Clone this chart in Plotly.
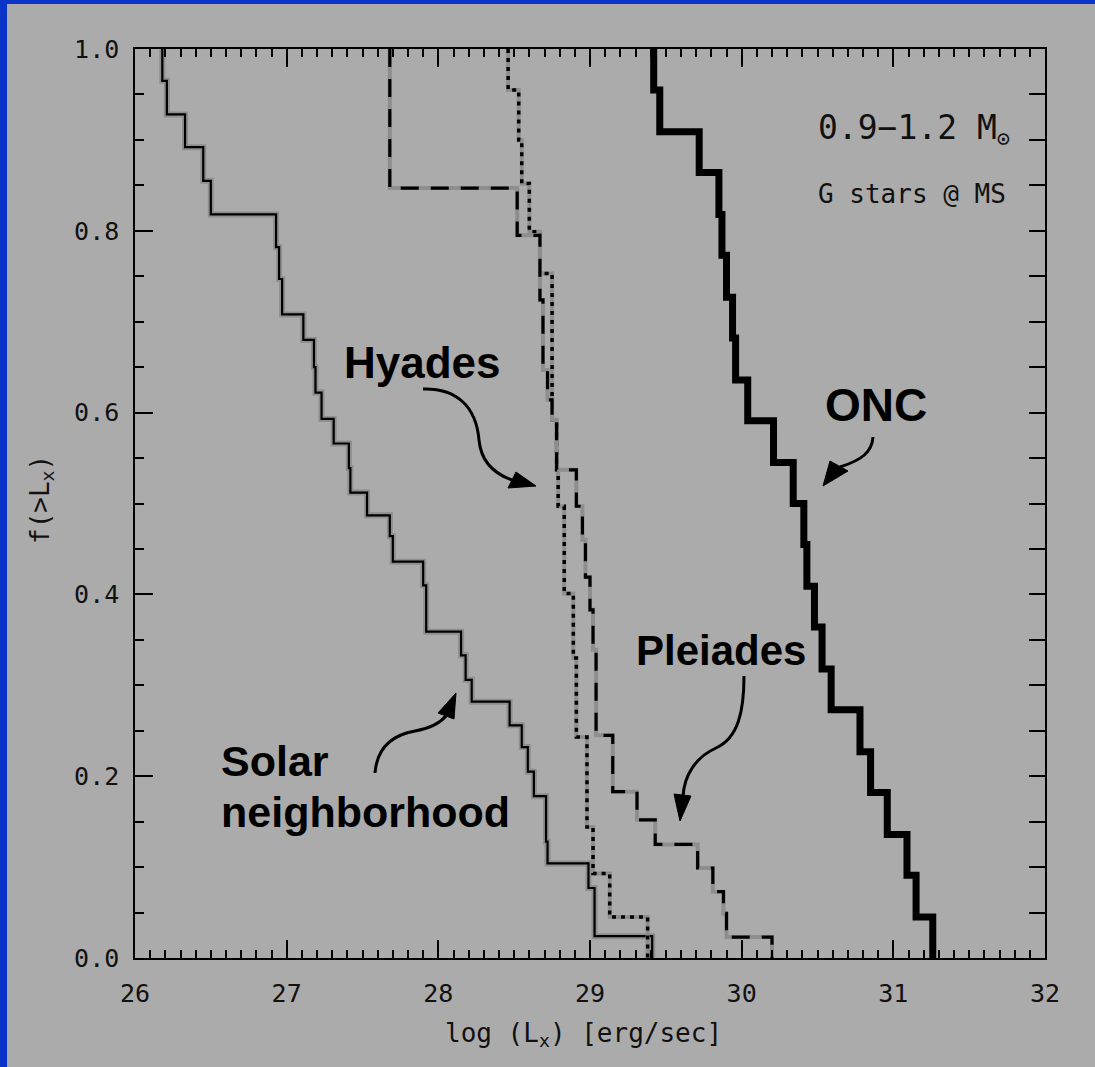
import plotly.graph_objects as go

# ---- cumulative X-ray luminosity functions, f(>Lx) vs log Lx ----
# each series: log Lx where the curve steps down, and the level after the step
solar_logLx = [26.18, 26.21, 26.33, 26.45, 26.50, 26.93, 26.95, 26.97, 27.11, 27.18,
               27.19, 27.23, 27.31, 27.41, 27.42, 27.53, 27.68, 27.70, 27.90, 27.92,
               28.15, 28.18, 28.22, 28.47, 28.55, 28.59, 28.63, 28.71, 28.72, 28.99,
               29.03, 29.41]
solar_frac = [0.965, 0.928, 0.892, 0.855, 0.818, 0.782, 0.747, 0.708, 0.680, 0.650,
              0.622, 0.593, 0.566, 0.539, 0.512, 0.487, 0.464, 0.436, 0.410, 0.359,
              0.333, 0.306, 0.282, 0.256, 0.232, 0.205, 0.178, 0.128, 0.104, 0.077,
              0.024, 0.0]

hyades_logLx = [28.46, 28.53, 28.55, 28.60, 28.67, 28.75, 28.78, 28.79, 28.83, 28.89,
                28.91, 28.98, 29.02, 29.13, 29.38]
hyades_frac = [0.955, 0.900, 0.852, 0.799, 0.753, 0.592, 0.537, 0.497, 0.401, 0.330,
               0.243, 0.144, 0.093, 0.045, 0.0]

pleiades_logLx = [27.68, 28.52, 28.67, 28.69, 28.72, 28.75, 28.78, 28.91, 28.95, 28.97,
                  29.00, 29.02, 29.04, 29.15, 29.31, 29.43, 29.71, 29.81, 29.88, 29.90,
                  30.20]
pleiades_frac = [0.847, 0.795, 0.724, 0.647, 0.614, 0.592, 0.537, 0.497, 0.460, 0.419,
                 0.383, 0.339, 0.245, 0.183, 0.152, 0.125, 0.099, 0.073, 0.049, 0.023,
                 0.0]

onc_logLx = [29.42, 29.46, 29.72, 29.85, 29.87, 29.90, 29.94, 29.96, 30.04, 30.21,
             30.34, 30.41, 30.43, 30.48, 30.53, 30.59, 30.78, 30.85, 30.96, 31.09,
             31.15, 31.26]
onc_frac = [0.955, 0.909, 0.864, 0.818, 0.773, 0.727, 0.682, 0.636, 0.591, 0.545,
            0.500, 0.455, 0.409, 0.364, 0.318, 0.273, 0.227, 0.182, 0.136, 0.091,
            0.045, 0.0]

x_range = [26, 32]
y_range = [0, 1]

# ---- figure geometry ----
W, H = 1095, 1067
ML, MR, MT, MB = 135, 50, 49, 109
PW, PH = W - ML - MR, H - MT - MB

BG = "#ababab"
BLUE = "#0a33c8"
HALO = "#8e8e8e"
INK = "#111111"
TICK_FONT = dict(family="DejaVu Sans Mono", size=25, color=INK)


def paper(px, py):
    """Figure pixel position -> paper coordinates."""
    return (px - ML) / PW, 1 - (py - MT) / PH


def steps(xs, fs):
    # every curve starts at f = 1 at its first step
    return [xs[0]] + list(xs), [1.0] + list(fs)


fig = go.Figure()


def add_curve(xs, fs, width, dash=None, halo=None):
    x, y = steps(xs, fs)
    if halo:
        fig.add_trace(go.Scatter(x=x, y=y, mode="lines", line_shape="hv",
                                 line=dict(color=HALO, width=halo),
                                 hoverinfo="skip", showlegend=False))
    fig.add_trace(go.Scatter(x=x, y=y, mode="lines", line_shape="hv",
                             line=dict(color="black", width=width, dash=dash),
                             showlegend=False))


add_curve(solar_logLx, solar_frac, 2.2, halo=6)
add_curve(hyades_logLx, hyades_frac, 3.5, dash="4px,5px", halo=4)
add_curve(pleiades_logLx, pleiades_frac, 3.2, dash="18px,12px", halo=4)
add_curve(onc_logLx, onc_frac, 7)

# empty trace so the mirrored tick axes (top / right) get drawn
fig.add_trace(go.Scatter(x=[], y=[], xaxis="x2", yaxis="y2", showlegend=False))

common = dict(showgrid=False, zeroline=False, ticks="inside", tickcolor="black",
              tickwidth=1.5)

fig.update_layout(
    width=W, height=H,
    margin=dict(l=ML, r=MR, t=MT, b=MB, pad=0),
    paper_bgcolor=BG, plot_bgcolor=BG,
    xaxis=dict(range=x_range, dtick=1, ticklen=18, tickformat="d",
               minor=dict(ticks="inside", dtick=0.1, ticklen=8, tickcolor="black", tickwidth=1.5),
               showline=True, linecolor="black", linewidth=1.5, mirror=True,
               tickfont=TICK_FONT, ticklabelstandoff=12, **common),
    yaxis=dict(range=y_range, dtick=0.2, ticklen=18, tickformat=".1f",
               minor=dict(ticks="inside", dtick=0.05, ticklen=9, tickcolor="black", tickwidth=1.5),
               showline=True, linecolor="black", linewidth=1.5, mirror=True,
               tickfont=TICK_FONT, ticklabelstandoff=9, **common),
    xaxis2=dict(range=x_range, overlaying="x", side="top", anchor="y2", dtick=1, ticklen=18,
                minor=dict(ticks="inside", dtick=0.1, ticklen=8, tickcolor="black", tickwidth=1.5),
                showticklabels=False, showline=False, **common),
    yaxis2=dict(range=y_range, overlaying="y", side="right", anchor="x2", dtick=0.2, ticklen=16,
                minor=dict(ticks="inside", dtick=0.05, ticklen=16, tickcolor="black", tickwidth=1.5),
                showticklabels=False, showline=False, **common),
    showlegend=False,
)

# ---- blue frame strips along the left and top edges ----
x_left, x_right = paper(0, 0)[0], paper(W, 0)[0]
y_bot, y_top = paper(0, H)[1], paper(0, 0)[1]
fig.add_shape(type="rect", xref="paper", yref="paper", x0=x_left, x1=paper(7, 0)[0],
              y0=y_bot, y1=y_top, fillcolor=BLUE, line_width=0, layer="above")
fig.add_shape(type="rect", xref="paper", yref="paper", x0=x_left, x1=x_right,
              y0=paper(0, 4)[1], y1=y_top, fillcolor=BLUE, line_width=0, layer="above")


# ---- curved pointer arrows (laid out in figure pixels) ----
def bezier(points):
    p = [paper(*pt) for pt in points]
    d = f"M {p[0][0]},{p[0][1]}"
    for i in range(1, len(p), 3):
        d += f" C {p[i][0]},{p[i][1]} {p[i+1][0]},{p[i+1][1]} {p[i+2][0]},{p[i+2][1]}"
    return d


def head(points):
    p = [paper(*pt) for pt in points]
    return f"M {p[0][0]},{p[0][1]} L {p[1][0]},{p[1][1]} L {p[2][0]},{p[2][1]} Z"


arrows = [
    # Hyades
    ([(423, 389), (455, 388), (476, 405), (479, 440), (481, 462), (495, 474), (512, 480)],
     [(536, 486), (508, 488), (516, 472)]),
    # ONC
    ([(873, 437), (872, 452), (862, 460), (840, 467)],
     [(823, 486), (830, 461), (848, 471)]),
    # Pleiades
    ([(744, 676), (744, 712), (738, 738), (716, 748), (696, 757), (684, 775), (683, 797)],
     [(680, 821), (674, 794), (691, 796)]),
    # Solar neighborhood
    ([(375, 773), (377, 748), (392, 735), (415, 731), (432, 728), (440, 723), (446, 716)],
     [(456, 693), (438, 713), (454, 719)]),
]
for curve, tip in arrows:
    fig.add_shape(type="path", xref="paper", yref="paper", path=bezier(curve),
                  line=dict(color="black", width=3), layer="above")
    fig.add_shape(type="path", xref="paper", yref="paper", path=head(tip),
                  fillcolor="black", line=dict(color="black", width=1), layer="above")


# ---- labels ----
def label(text, px, py, font, xanchor="center", angle=0):
    x, y = paper(px, py)
    fig.add_annotation(text=text, x=x, y=y, xref="paper", yref="paper",
                       xanchor=xanchor, yanchor="middle", showarrow=False,
                       textangle=angle, font=font)


def bold(size):
    return dict(family="Liberation Sans", color="black", weight="bold", size=size)


def mono(size):
    return dict(family="DejaVu Sans Mono", color=INK, size=size)


label("Hyades", 422, 362, bold(44))
label("ONC", 876, 405, bold(46))
label("Pleiades", 721, 650, bold(42))
label("Solar", 219, 761, bold(43), xanchor="left")
label("neighborhood", 219, 812, bold(43), xanchor="left")

label("0.9\u22121.2 M<sub><span style='font-size:22px'>\u2299</span></sub>", 816, 130,
      mono(33), xanchor="left")
label("G stars @ MS", 816, 194, mono(26), xanchor="left")

# axis titles
label("log (L<sub>x</sub>) [erg/sec]", 583, 1034, mono(26))
label("f(>L<sub>x</sub>)", 41, 500, mono(26), angle=-90)

fig.write_html("out.html")
